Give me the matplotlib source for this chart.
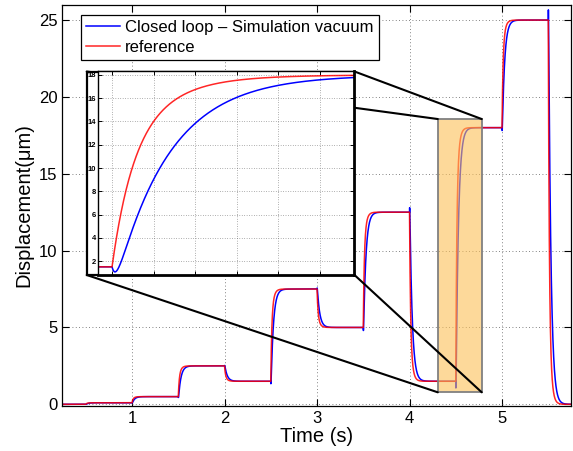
import numpy as np
import matplotlib
matplotlib.use("Agg")
import matplotlib.pyplot as plt
from matplotlib.patches import Rectangle, ConnectionPatch

plt.rcParams['font.family'] = ['Liberation Sans', 'DejaVu Sans']

# ---- data: reference step schedule (s, um) ----
step_times = [0.0, 0.5, 1.0, 1.5, 2.0, 2.5, 3.0, 3.5, 4.0, 4.5, 5.0, 5.5]
step_levels = [0.0, 0.1, 0.5, 2.5, 1.5, 7.5, 5.0, 12.5, 1.5, 18.0, 25.0, 0.0]

# dynamics (seconds)
ref_tau_fast, ref_tau_slow, ref_fast_weight = 0.010, 0.022, 0.6
cl_tau, cl_tau_fast, cl_zero = 0.026, 0.002, 0.0022

series_names = ['Closed loop \u2013 Simulation vacuum', 'reference']
x_ticks = [1, 2, 3, 4, 5]
y_ticks = [0, 5, 10, 15, 20, 25]
inset_yticks = [2, 4, 6, 8, 10, 12, 14, 16, 18]
inset_xticks = [4.50, 4.52, 4.54, 4.56, 4.58, 4.60]
zoom_box = (4.306, 0.78, 4.781, 18.56)   # x0, y0, x1, y1

t = np.arange(0.0, 5.75 + 1e-9, 1e-4)


def h_ref(s):
    return 1 - ref_fast_weight * np.exp(-s / ref_tau_fast) - (1 - ref_fast_weight) * np.exp(-s / ref_tau_slow)


cT = -(cl_tau + cl_zero) / (cl_tau - cl_tau_fast)
ce = -(cl_tau_fast + cl_zero) / (cl_tau_fast - cl_tau)


def h_cl(s):
    return 1 + cT * np.exp(-s / cl_tau) + ce * np.exp(-s / cl_tau_fast)


def response(h):
    y = np.zeros_like(t)
    prev = 0.0
    for tk, lv in zip(step_times, step_levels):
        d = lv - prev
        prev = lv
        m = t >= tk
        y[m] += d * h(t[m] - tk)
    return y


ref = response(h_ref)
cl = response(h_cl)

W, H = 573, 451
fig = plt.figure(figsize=(W / 100, H / 100), dpi=100)

ax = fig.add_axes([62.2 / W, 1 - 406 / H, (571 - 62.2) / W, (406 - 5) / H])
ax.plot(t, cl, color='#0000ff', lw=1.1, label=series_names[0])
ax.plot(t, ref, color='#ff0000', lw=1.1, alpha=0.85, label=series_names[1])
ax.set_xlim(0.245, 5.746)
ax.set_ylim(-0.11, 25.98)
ax.set_xticks(x_ticks)
ax.set_yticks(y_ticks)
ax.tick_params(direction='in', top=True, right=True, length=5, width=0.8,
               labelsize=12, pad=3.5)
ax.grid(True, color='0.35', lw=0.6, linestyle=(0, (1, 3)))
for sp in ax.spines.values():
    sp.set_linewidth(0.9)
ax.set_xlabel('Time (s)', fontsize=14.5, labelpad=1)
ax.set_ylabel('Displacement(\u03bcm)', fontsize=14.5, labelpad=4)

leg = ax.legend(loc='upper left', bbox_to_anchor=(81 / W, 1 - 15 / H),
                bbox_transform=fig.transFigure, borderaxespad=0,
                fontsize=12, frameon=True, fancybox=False, framealpha=1,
                edgecolor='black', handlelength=2.05, handletextpad=0.3,
                labelspacing=0.3, borderpad=0.3)
leg.get_frame().set_linewidth(0.9)

# zoom rectangle
x0, y0, x1, y1 = zoom_box
ax.add_patch(Rectangle((x0, y0), x1 - x0, y1 - y0,
                       facecolor=(252 / 255, 192 / 255, 87 / 255, 0.6),
                       edgecolor=(0.5, 0.5, 0.5, 1), lw=1.3, zorder=3))

# inset frame (figure coords)
fx0, fx1 = 86.7 / W, 354.5 / W
fyt, fyb = 1 - 71.5 / H, 1 - 275 / H
for (fa, da) in [((fx0, fyt), (x0, y1)), ((fx1, fyt), (x1, y1)),
                 ((fx0, fyb), (x0, y0)), ((fx1, fyb), (x1, y0))]:
    con = ConnectionPatch(xyA=fa, coordsA=fig.transFigure, xyB=da, coordsB=ax.transData,
                          color='black', lw=1.5, zorder=2)
    fig.add_artist(con)

frame = Rectangle((fx0, fyb), fx1 - fx0, fyt - fyb, transform=fig.transFigure,
                  facecolor='white', edgecolor='black', lw=1.6, zorder=4)
fig.add_artist(frame)

axi = fig.add_axes([97.7 / W, 1 - 274.5 / H, (353.5 - 97.7) / W, (274.5 - 71.5) / H], zorder=5)
axi.plot(t, cl, color='#0000ff', lw=1.1)
axi.plot(t, ref, color='#ff0000', lw=1.1, alpha=0.85)
axi.set_xlim(4.4931, 4.6162)
axi.set_ylim(0.84, 18.3)
axi.set_yticks(inset_yticks)
axi.set_xticks(inset_xticks)
axi.set_xticklabels([])
axi.tick_params(direction='in', top=True, right=True, length=3, width=0.7,
                labelsize=5.5, pad=1.2)
for lab in axi.get_yticklabels():
    lab.set_fontweight('bold')
axi.grid(True, color='0.4', lw=0.5, linestyle=(0, (1, 2.5)))
axi.spines['left'].set_linewidth(1.0)
axi.spines['top'].set_linewidth(1.0)
axi.spines['bottom'].set_linewidth(2.0)
axi.spines['right'].set_linewidth(2.0)

fig.savefig('out.png', dpi=100)
